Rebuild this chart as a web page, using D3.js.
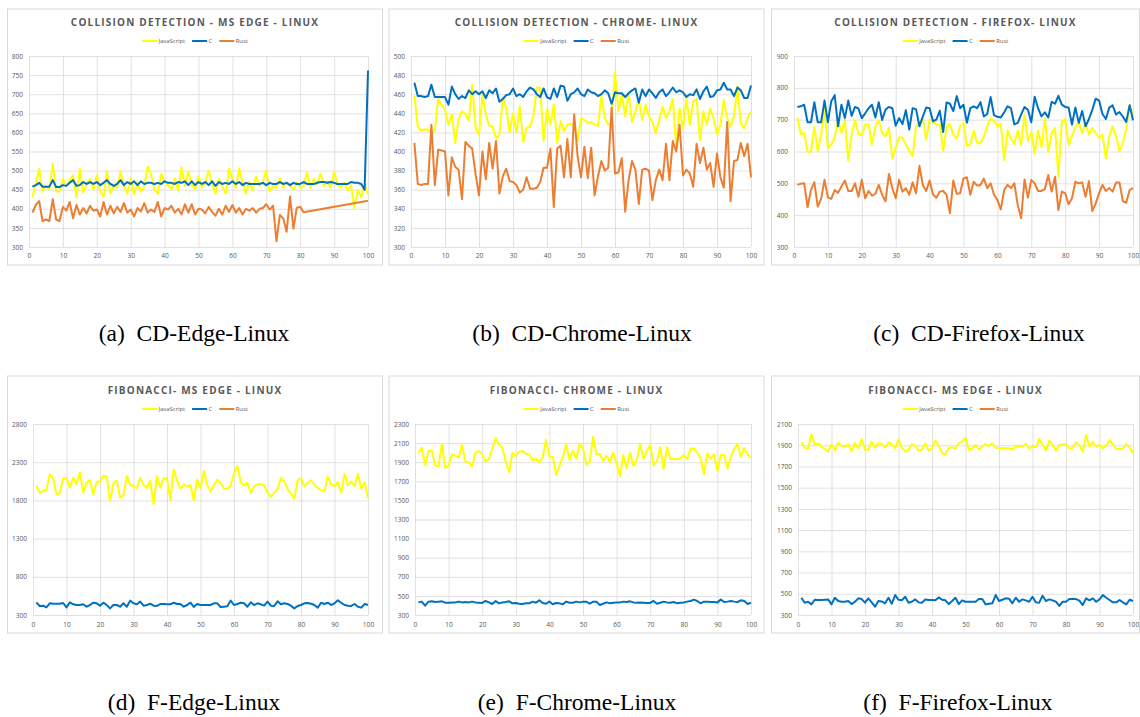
<!DOCTYPE html>
<html><head><meta charset="utf-8">
<script src="https://cdn.jsdelivr.net/npm/d3@7"></script>
<style>
body{margin:0;background:#fff;}
svg{display:block;}
</style></head><body>
<svg id="c" width="1140" height="717"></svg>
<script>
// ---------- DATA ----------
const seriesNames = ["JavaScript", "C", "Rust"];
const seriesColors = ["#FFFF00", "#0070C0", "#ED7D31"];
const titles = [
  "COLLISION DETECTION - MS EDGE - LINUX",
  "COLLISION DETECTION - CHROME- LINUX",
  "COLLISION DETECTION - FIREFOX- LINUX",
  "FIBONACCI- MS EDGE - LINUX",
  "FIBONACCI- CHROME - LINUX",
  "FIBONACCI- MS EDGE - LINUX"
];
const captions = ["(a)  CD-Edge-Linux", "(b)  CD-Chrome-Linux", "(c)  CD-Firefox-Linux",
                  "(d)  F-Edge-Linux", "(e)  F-Chrome-Linux", "(f)  F-Firefox-Linux"];
const xTicks = [0, 10, 20, 30, 40, 50, 60, 70, 80, 90, 100];
const yTicksCdEdge = [300, 350, 400, 450, 500, 550, 600, 650, 700, 750, 800];
const yTicksCdChrome = [300, 320, 340, 360, 380, 400, 420, 440, 460, 480, 500];
const yTicksCdFirefox = [300, 400, 500, 600, 700, 800, 900];
const yTicksFibEdge = [300, 800, 1300, 1800, 2300, 2800];
const yTicksFibChrome = [300, 500, 700, 900, 1100, 1300, 1500, 1700, 1900, 2100, 2300];
const yTicksFibFirefox = [300, 500, 700, 900, 1100, 1300, 1500, 1700, 1900, 2100];

const cdEdgeJS = [430,465,505,445,460,450,518,445,445,478,460,475,488,430,505,443,465,478,450,488,
  445,432,498,440,460,455,498,460,440,480,438,470,445,458,510,490,450,440,492,470,
  462,450,480,447,508,460,498,465,450,485,455,470,500,465,440,478,460,440,505,478,
  455,505,470,440,470,448,485,460,470,500,445,460,455,480,455,470,460,450,470,455,
  460,495,455,478,465,492,460,470,455,498,465,455,470,448,462,402,450,430,465,437];
const cdEdgeC = [458,462,468,458,458,458,475,457,457,462,460,468,475,460,462,470,465,470,465,470,
  462,468,475,465,460,465,475,462,470,465,472,462,472,465,468,468,465,468,465,472,
  468,468,465,470,468,472,462,472,462,470,465,470,462,472,460,470,465,468,465,472,
  465,470,462,468,465,465,465,465,468,462,468,465,465,470,465,468,462,468,465,465,
  470,465,465,465,468,470,470,468,470,468,465,465,465,465,470,468,468,465,450,762];
const cdEdgeRust = [390,410,420,368,372,368,425,372,368,405,395,418,375,410,385,402,388,408,395,398,
  380,418,385,408,388,405,392,415,390,398,380,402,393,415,390,398,392,418,380,402,
  398,408,390,400,385,412,390,412,385,400,398,388,405,392,382,400,385,408,392,410,
  390,402,385,400,395,402,390,400,402,412,398,408,315,384,375,340,432,348,403,405,
  391,null,null,null,null,null,null,null,null,null,null,null,null,null,null,null,null,null,null,421];

const cdChromeJS = [458,426,422,423,423,419,422,455,449,444,428,439,409,434,442,439,432,470,425,417,
  459,439,427,426,414,417,456,446,420,440,420,447,410,425,426,437,467,467,411,444,
  428,449,409,432,421,428,429,426,411,435,433,430,431,428,427,458,435,428,430,483,
  442,460,437,462,431,442,454,433,449,437,431,419,433,447,435,442,455,407,445,424,
  455,428,452,455,412,442,428,445,435,418,428,454,435,426,437,468,430,424,435,442];
const cdChromeC = [472,458,458,457,458,470,457,457,457,457,449,468,460,455,458,456,464,460,463,460,
  463,456,464,461,466,452,455,459,460,466,458,460,457,463,467,465,460,457,466,457,
  455,466,457,469,468,453,460,462,466,460,458,465,462,461,458,460,464,461,450,462,
  461,461,457,461,464,466,451,465,458,465,461,456,462,465,458,462,467,462,464,462,
  457,460,459,465,455,463,468,457,458,464,465,472,465,465,458,467,464,456,456,469];
const cdChromeRust = [409,366,365,366,366,428,365,402,401,400,354,394,384,381,350,410,406,403,376,354,
  400,371,409,382,411,356,374,382,369,368,365,357,360,373,361,361,362,368,383,383,
  403,342,403,406,373,413,373,439,395,373,405,372,404,354,374,390,380,383,446,377,
  378,393,337,370,390,381,345,381,382,380,349,370,381,370,408,370,411,400,428,375,
  381,377,363,408,388,404,381,388,363,398,373,362,431,348,390,391,409,395,408,373];

const cdFirefoxJS = [707,655,658,599,599,679,601,653,736,612,622,643,697,658,700,571,653,699,655,651,
  685,685,622,679,697,658,648,674,578,612,645,643,622,603,585,679,689,705,637,700,
  695,683,685,601,676,686,653,640,679,690,618,621,666,628,625,647,679,703,697,679,
  687,573,666,640,624,666,621,716,633,661,593,666,614,705,598,658,674,521,692,702,
  619,649,676,691,658,691,653,674,658,643,653,578,648,679,648,601,627,671,747,714];
const cdFirefoxC = [740,742,747,692,692,755,692,692,760,692,758,777,679,747,705,760,712,740,735,705,
  720,736,747,707,755,699,732,740,736,681,705,686,730,669,736,733,679,710,738,736,
  695,700,728,661,754,750,727,774,736,747,690,736,742,736,755,710,718,771,714,709,
  707,723,742,736,685,690,716,740,731,692,772,736,710,723,707,756,750,775,747,740,
  738,685,738,690,727,679,702,731,766,760,718,702,738,745,716,724,710,693,745,698];
const cdFirefoxRust = [495,499,500,425,479,504,427,451,511,456,451,479,470,490,509,476,476,500,458,511,
  453,476,461,467,495,464,443,529,485,453,511,474,485,464,503,469,555,495,476,509,
  465,455,474,476,464,406,509,467,469,515,519,464,505,493,495,515,485,500,464,448,
  418,479,495,485,500,432,390,512,455,511,500,476,476,482,526,474,521,416,474,469,
  434,453,505,500,503,458,507,413,437,469,495,476,485,474,503,503,444,439,479,485];

const fibEdgeJS = [1993,1901,1923,1940,2141,2089,1879,1893,2089,2089,1971,2097,2014,2167,1906,2032,2067,1879,2045,2045,
  2119,2110,1792,2023,2062,1836,1871,2119,2001,1988,1958,2097,2001,1966,2054,1749,2119,1966,2089,2089,
  1805,2206,2054,1958,2010,1980,2001,1805,2071,1953,2184,1997,1918,1997,2071,2027,1953,1953,1997,2150,
  2250,2040,1997,2032,1901,1984,2010,2010,1997,1901,1845,1901,1945,2093,2049,1953,1888,1823,2062,2093,
  1984,2027,2062,2006,1962,1931,1918,2115,2010,1984,2040,1901,2150,1997,2049,1988,2150,1953,2040,1831];
const fibEdgeC = [466,418,422,400,453,448,448,448,457,400,466,440,431,431,440,409,431,461,453,422,
  461,431,387,431,431,409,453,409,488,453,440,475,422,431,448,422,418,444,444,440,
  440,461,444,444,409,431,461,405,444,431,431,431,431,453,453,405,409,413,488,431,
  444,461,453,409,466,431,453,440,422,475,422,418,479,440,453,444,422,387,418,431,
  453,457,448,431,396,461,444,461,431,453,492,461,431,422,418,444,409,396,444,431];
const fibEdgeRust = [];

const fibChromeJS = [1993,2052,1871,2017,2021,1864,1864,2091,1843,1864,1982,1968,1947,2080,1906,1899,1853,2003,2017,1982,
  1906,1934,2038,2150,2087,2052,1906,1794,2000,1965,2010,2017,1989,1982,1923,1934,1899,1947,2132,1958,
  1958,1766,1864,1958,2087,1923,2021,1934,2087,2045,1871,1906,2167,1982,1986,1916,1968,1899,2000,1888,
  1755,1975,1836,2003,1864,1923,2091,1934,2017,2080,1871,1906,2056,1825,2056,1934,1934,1930,1941,1975,
  1934,2038,2045,2000,1941,1776,1993,1934,1982,1811,1975,1975,1836,1958,2038,2091,1958,2052,1982,1947];
const fibChromeC = [432,440,398,440,443,436,440,443,429,429,432,432,440,432,436,432,440,432,429,426,
  447,432,415,447,422,432,436,443,422,426,418,415,422,422,440,429,454,426,418,440,
  412,426,422,412,440,429,429,440,432,440,440,418,440,440,405,418,432,422,429,432,
  432,440,436,443,432,429,432,429,426,426,447,418,429,440,432,429,436,422,429,432,
  440,447,461,447,422,440,440,436,436,432,461,436,440,447,440,436,454,447,415,429];
const fibChromeRust = [];

const fibFirefoxJS = [1927,1877,1864,2003,1902,1918,1886,1864,1839,1908,1855,1921,1896,1890,1908,1845,1921,1871,1959,1858,
  1858,1933,1877,1918,1911,1877,1927,1908,1871,1955,1877,1839,1855,1908,1896,1849,1858,1918,1849,1877,
  1943,1896,1824,1814,1877,1880,1871,1918,1933,1971,1855,1871,1902,1861,1886,1911,1892,1918,1877,1871,
  1871,1874,1871,1858,1896,1890,1890,1914,1871,1886,1880,1959,1908,1849,1943,1902,1849,1902,1908,1908,
  1871,1871,1927,1902,1839,1996,1886,1933,1886,1902,1871,1896,1949,1908,1864,1864,1871,1911,1877,1830];
const fibFirefoxC = [463,416,425,400,444,441,441,444,447,400,463,432,425,425,432,403,425,457,450,416,
  457,419,378,432,428,410,463,406,488,444,438,472,416,425,447,419,416,447,441,441,
  438,466,444,438,403,432,463,403,438,425,425,425,425,450,450,400,406,410,488,432,
  444,457,454,410,463,425,447,438,425,472,419,416,482,432,447,438,425,385,425,425,
  450,450,450,435,394,457,438,457,425,447,488,463,441,419,419,441,419,400,444,432];
const fibFirefoxRust = [];

// ---------- LAYOUT ----------
const TOP = {box: [9, 265], plot: [56, 247], title: 25.5, legend: 41, xlab: 256, cap: 341};
const BOT = {box: [376, 633], plot: [424, 615], title: 394, legend: 409, xlab: 625, cap: 710};
const panels = [
  {row: TOP, bx: [7.5, 382.5], px: [29, 368], yTicks: yTicksCdEdge, data: [cdEdgeJS, cdEdgeC, cdEdgeRust], capX: 194},
  {row: TOP, bx: [389, 764], px: [411, 751], yTicks: yTicksCdChrome, data: [cdChromeJS, cdChromeC, cdChromeRust], capX: 582},
  {row: TOP, bx: [771.5, 1139.5], px: [794, 1133], yTicks: yTicksCdFirefox, data: [cdFirefoxJS, cdFirefoxC, cdFirefoxRust], capX: 979},
  {row: BOT, bx: [7.5, 382.5], px: [33, 368], yTicks: yTicksFibEdge, data: [fibEdgeJS, fibEdgeC, fibEdgeRust], capX: 194},
  {row: BOT, bx: [389, 764], px: [415, 751], yTicks: yTicksFibChrome, data: [fibChromeJS, fibChromeC, fibChromeRust], capX: 577},
  {row: BOT, bx: [771.5, 1139.5], px: [798, 1133], yTicks: yTicksFibFirefox, data: [fibFirefoxJS, fibFirefoxC, fibFirefoxRust], capX: 958}
];

const svg = d3.select("#c");
const FONT = "'Open Sans', 'Liberation Sans', sans-serif";
const GRID = "#d9d9d9", TXT = "#595959";

panels.forEach((p, k) => {
  const g = svg.append("g");
  const r = p.row;
  g.append("rect").attr("x", p.bx[0]).attr("y", r.box[0])
    .attr("width", p.bx[1] - p.bx[0]).attr("height", r.box[1] - r.box[0])
    .attr("fill", "#fff").attr("stroke", "#d9d9d9").attr("stroke-width", 1);

  const x = d3.scaleLinear().domain([0, 100]).range(p.px);
  const y = d3.scaleLinear().domain(d3.extent(p.yTicks)).range([r.plot[1], r.plot[0]]);

  const gy = g.append("g").attr("transform", `translate(${p.px[0]},0)`)
    .call(d3.axisLeft(y).tickValues(p.yTicks).tickSize(-(p.px[1] - p.px[0])).tickFormat(d3.format("d")).tickPadding(6));
  gy.select(".domain").remove();
  gy.selectAll("line").attr("stroke", GRID).attr("stroke-width", 0.8);
  gy.selectAll("text").attr("fill", TXT).attr("font-family", FONT).attr("font-size", 6.6);

  const gx = g.append("g").attr("transform", `translate(0,${r.plot[1]})`)
    .call(d3.axisBottom(x).tickValues(xTicks).tickSize(-(r.plot[1] - r.plot[0])).tickPadding(0));
  gx.select(".domain").remove();
  gx.selectAll("line").attr("stroke", GRID).attr("stroke-width", 0.8);
  gx.selectAll("text").attr("fill", TXT).attr("font-family", FONT).attr("font-size", 6.6)
    .attr("y", r.xlab - r.plot[1]).attr("dy", "0.35em");

  const line = d3.line().x(d => x(d.i)).y(d => y(d.v));
  p.data.forEach((arr, si) => {
    const pts = arr.map((v, i) => ({i: i + 1, v})).filter(d => d.v !== null);
    if (!pts.length) return;
    g.append("path").datum(pts).attr("d", line).attr("fill", "none")
      .attr("stroke", seriesColors[si]).attr("stroke-width", 2).attr("stroke-linejoin", "round");
  });

  const cx = (p.bx[0] + p.bx[1]) / 2;
  g.append("text").attr("x", cx).attr("y", r.title).attr("text-anchor", "middle")
    .attr("font-family", FONT).attr("font-weight", "bold").attr("font-size", 10)
    .attr("letter-spacing", 1.2).attr("fill", TXT).text(titles[k]);

  const lg = g.append("g");
  let lx = 0;
  seriesNames.forEach((nm, si) => {
    lg.append("line").attr("x1", lx).attr("x2", lx + 15).attr("y1", r.legend).attr("y2", r.legend)
      .attr("stroke", seriesColors[si]).attr("stroke-width", 2);
    const t = lg.append("text").attr("x", lx + 16.5).attr("y", r.legend).attr("dy", "0.35em")
      .attr("font-family", FONT).attr("font-size", 5.8).attr("fill", TXT).text(nm);
    lx += 16.5 + t.node().getComputedTextLength() + 7;
  });
  lx -= 7;
  lg.attr("transform", `translate(${cx - lx / 2},0)`);

  svg.append("text").attr("x", p.capX).attr("y", r.cap).attr("text-anchor", "middle")
    .attr("font-family", "'Liberation Serif', 'Times New Roman', serif").attr("font-size", 23.5)
    .attr("fill", "#000").style("white-space", "pre").text(captions[k]);
});
</script>
</body></html>
